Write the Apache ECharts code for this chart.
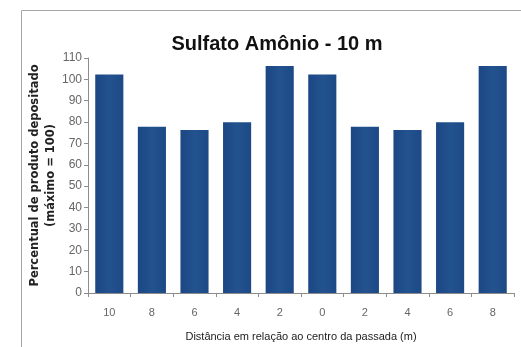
<!DOCTYPE html>
<html><head><meta charset="utf-8">
<script src="https://cdn.jsdelivr.net/npm/echarts@6/dist/echarts.min.js"></script>
<style>html,body{margin:0;padding:0;background:#fff}#c{width:521px;height:347px}</style>
</head><body><div id="c"></div>
<script>
const categories = ['10','8','6','4','2','0','2','4','6','8'];
const values = [102.3, 77.8, 76.3, 79.9, 106.2, 102.3, 77.8, 76.3, 79.9, 106.2];
const yTicks = {min: 0, max: 110, interval: 10};
const titleText = 'Sulfato Amônio - 10 m';
const yName = 'Percentual de produto depositado\n(máximo = 100)';
const xName = 'Distância em relação ao centro da passada (m)';

const chart = echarts.init(document.getElementById('c'));
chart.setOption({
  animation: false,
  graphic: [{type:'rect', shape:{x:21.5,y:10.5,width:520,height:360}, style:{fill:'none', stroke:'#a6a6a6', lineWidth:1}}],
  title: {text: titleText, left: 272, top: 29, textAlign: 'center',
    textStyle: {fontFamily: 'Liberation Sans', fontSize: 20, fontWeight: 'bold', color: '#111'}},
  grid: {left: 88, right: 7, top: 58, bottom: 54},
  xAxis: {type: 'category', data: categories,
    axisLine: {lineStyle: {color: '#8c8c8c'}},
    axisTick: {show: true, length: 4, lineStyle: {color: '#8c8c8c'}},
    axisLabel: {color: '#666', fontFamily: 'Liberation Sans', fontSize: 11, margin: 14},
    name: xName, nameLocation: 'middle', nameGap: 38, nameMoveOverlap: false,
    nameTextStyle: {color: '#222', fontFamily: 'Liberation Sans', fontSize: 11}},
  yAxis: {type: 'value', min: yTicks.min, max: yTicks.max, interval: yTicks.interval,
    axisLine: {show: true, lineStyle: {color: '#8c8c8c'}},
    axisTick: {show: true, length: 4, inside: false, lineStyle: {color: '#8c8c8c'}},
    splitLine: {show: false},
    axisLabel: {color: '#666', fontFamily: 'Liberation Sans', fontSize: 12, margin: 6},
    name: yName, nameLocation: 'middle', nameGap: 29, nameRotate: 90, nameMoveOverlap: false,
    nameTextStyle: {color: '#222', fontFamily: 'DejaVu Sans', fontSize: 11.5, fontWeight: 'bold', lineHeight: 16}},
  series: [{type: 'bar', data: values, barCategoryGap: '34%',
    itemStyle: {color: new echarts.graphic.LinearGradient(0,0,1,0,[
      {offset:0,color:'#1c4784'},{offset:0.5,color:'#22528f'},{offset:1,color:'#1d4a87'}])}}]
});
</script></body></html>
